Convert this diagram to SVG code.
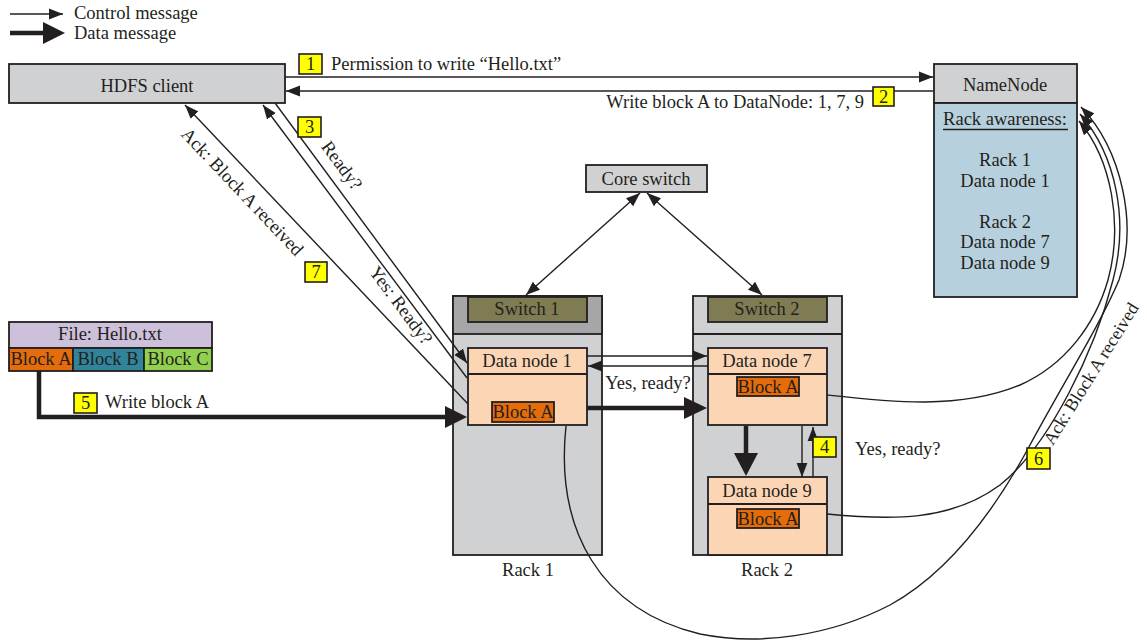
<svg xmlns="http://www.w3.org/2000/svg" width="1147" height="640" viewBox="0 0 1147 640">
<style>
.t{font-family:"Liberation Serif","Times New Roman",serif;font-size:18.5px;fill:#231f20}
.m{text-anchor:middle}
.e{text-anchor:end}
.b{stroke:#231f20;stroke-width:1.8}
.c{stroke:#231f20;stroke-width:1.4;fill:none}
.d{stroke:#231f20;stroke-width:4.5;fill:none}
.h{fill:#231f20}
.y{fill:#ffff00;stroke:#231f20;stroke-width:1.6}
.g{fill:#d0d1d3}
.p{fill:#fcd5b4}
.o{fill:#e46c0a}
.ol{fill:#7f7b52}
</style>
<defs>
<marker id="a" markerUnits="userSpaceOnUse" markerWidth="14" markerHeight="12" viewBox="0 0 13 10" refX="13" refY="5" orient="auto-start-reverse">
<path d="M0,0 L13,5 L0,10 z" fill="#231f20"/>
</marker>
</defs>

<g id="legend">
<line class="c" x1="10" y1="14" x2="63" y2="14" marker-end="url(#a)"/>
<text class="t" x="74" y="19">Control message</text>
<line class="d" x1="10" y1="33" x2="45" y2="33"/>
<polygon class="h" points="43,22 65,33 43,44"/>
<text class="t" x="74" y="39">Data message</text>
</g>

<g id="hdfs-client">
<rect class="b g" x="9" y="64" width="276" height="39"/>
<text class="t m" x="147" y="92">HDFS client</text>
</g>

<g id="namenode">
<rect class="b g" x="934" y="64" width="143" height="39"/>
<rect class="b" fill="#b7d0dd" x="934" y="103" width="143" height="194"/>
<text class="t m" x="1005" y="91">NameNode</text>
<text class="t m" x="1005" y="125">Rack awareness:</text>
<line x1="943" y1="129.5" x2="1068" y2="129.5" stroke="#231f20" stroke-width="1.5"/>
<text class="t m" x="1005" y="166">Rack 1</text>
<text class="t m" x="1005" y="187">Data node 1</text>
<text class="t m" x="1005" y="228">Rack 2</text>
<text class="t m" x="1005" y="248">Data node 7</text>
<text class="t m" x="1005" y="269">Data node 9</text>
</g>

<g id="core-switch">
<rect class="b g" x="586" y="165" width="121" height="27"/>
<text class="t m" x="646" y="185">Core switch</text>
</g>

<g id="file">
<rect class="b" fill="#ccc0da" x="9" y="322" width="203" height="26"/>
<text class="t m" x="110" y="340">File: Hello.txt</text>
<rect class="b o" x="9" y="348" width="64" height="23"/>
<rect class="b" fill="#31849b" x="73" y="348" width="71" height="23"/>
<rect class="b" fill="#92d050" x="144" y="348" width="68" height="23"/>
<text class="t m" x="41" y="365">Block A</text>
<text class="t m" x="108" y="365">Block B</text>
<text class="t m" x="178" y="365">Block C</text>
</g>

<g id="rack1">
<rect class="b g" x="453" y="296" width="149" height="259"/>
<rect class="b" fill="#a6a6a8" x="453" y="296" width="149" height="38"/>
<text class="t m" x="528" y="576">Rack 1</text>
</g>
<g id="switch1">
<rect class="b ol" x="468" y="297" width="119" height="25"/>
<text class="t m" x="527" y="315">Switch 1</text>
</g>
<g id="datanode1">
<rect class="b p" x="468" y="348" width="119" height="77"/>
<line class="b" x1="468" y1="374" x2="587" y2="374"/>
<text class="t m" x="527" y="367">Data node 1</text>
<rect class="b o" x="492" y="402" width="62" height="20"/>
<text class="t m" x="523" y="418">Block A</text>
</g>

<g id="rack2">
<rect class="b g" x="693" y="296" width="149" height="259"/>
<line class="b" x1="693" y1="334" x2="842" y2="334"/>
<text class="t m" x="767" y="576">Rack 2</text>
</g>
<g id="switch2">
<rect class="b ol" x="708" y="297" width="119" height="25"/>
<text class="t m" x="767" y="315">Switch 2</text>
</g>
<g id="datanode7">
<rect class="b p" x="708" y="348" width="119" height="77"/>
<line class="b" x1="708" y1="374" x2="827" y2="374"/>
<text class="t m" x="767" y="367">Data node 7</text>
<rect class="b o" x="737" y="377" width="62" height="19"/>
<text class="t m" x="768" y="393">Block A</text>
</g>
<g id="datanode9">
<rect class="b p" x="708" y="477" width="119" height="78"/>
<line class="b" x1="708" y1="504" x2="827" y2="504"/>
<text class="t m" x="767" y="497">Data node 9</text>
<rect class="b o" x="737" y="509" width="62" height="19"/>
<text class="t m" x="768" y="525">Block A</text>
</g>

<g id="connectors">
<line class="c" x1="285" y1="77" x2="933" y2="77" marker-end="url(#a)"/>
<line class="c" x1="933" y1="91" x2="286" y2="91" marker-end="url(#a)"/>
<line class="c" x1="640" y1="193" x2="526" y2="295" marker-start="url(#a)" marker-end="url(#a)"/>
<line class="c" x1="647" y1="193" x2="762" y2="295" marker-start="url(#a)" marker-end="url(#a)"/>
<line class="c" x1="275" y1="103" x2="467" y2="363" marker-end="url(#a)"/>
<line class="c" x1="467" y1="378" x2="263" y2="105" marker-end="url(#a)"/>
<line class="c" x1="468" y1="404" x2="185" y2="105" marker-end="url(#a)"/>
<line class="c" x1="587" y1="356" x2="707" y2="356" marker-end="url(#a)"/>
<line class="c" x1="708" y1="366" x2="588" y2="366" marker-end="url(#a)"/>
<line class="c" x1="802" y1="426" x2="802" y2="477" marker-end="url(#a)"/>
<line class="c" x1="813" y1="477" x2="813" y2="427" marker-end="url(#a)"/>
<polyline class="d" points="39,371 39,417 447,417"/>
<polygon class="h" points="445,406 467,417 445,428"/>
<line class="d" x1="587" y1="408" x2="686" y2="408"/>
<polygon class="h" points="684,397 707,408 684,419"/>
<line class="d" x1="746" y1="426" x2="746" y2="455"/>
<polygon class="h" points="734,453 758,453 746,476"/>
<path class="c" d="M827,395 C890,402 960,410 1020,385 C1065,365 1095,325 1108,280 C1123,225 1112,160 1079,121" marker-end="url(#a)"/>
<path class="c" d="M827,514 C890,520 950,522 1000,485 C1050,445 1095,350 1113,280 C1129,220 1116,155 1080,114" marker-end="url(#a)"/>
<path class="c" d="M566,426 C555,530 600,610 700,634 C760,646 830,636 890,605 C950,572 995,510 1030,445 C1065,380 1100,325 1119,280 C1138,225 1122,150 1081,107" marker-end="url(#a)"/>
</g>

<g id="labels">
<rect class="y" x="299" y="54" width="23" height="20"/>
<text class="t m" x="310.5" y="70">1</text>
<text class="t" x="331" y="70">Permission to write “Hello.txt”</text>
<rect class="y" x="873" y="87" width="21" height="19"/>
<text class="t m" x="883.5" y="103">2</text>
<text class="t e" x="864" y="108">Write block A to DataNode: 1, 7, 9</text>
<rect class="y" x="298" y="117" width="23" height="20"/>
<text class="t m" x="309.5" y="133">3</text>
<text class="t m" transform="translate(337,169) rotate(53.6)">Ready?</text>
<text class="t m" transform="translate(396,309) rotate(53.3)">Yes: Ready?</text>
<text class="t m" transform="translate(238,196) rotate(46.6)">Ack: Block A received</text>
<rect class="y" x="305" y="262" width="22" height="20"/>
<text class="t m" x="316" y="278">7</text>
<rect class="y" x="74" y="393" width="23" height="20"/>
<text class="t m" x="85.5" y="409">5</text>
<text class="t" x="105" y="408">Write block A</text>
<text class="t m" x="648" y="389">Yes, ready?</text>
<rect class="y" x="813" y="437" width="23" height="20"/>
<text class="t m" x="824.5" y="453">4</text>
<text class="t" x="855" y="455">Yes, ready?</text>
<rect class="y" x="1027" y="448" width="23" height="21"/>
<text class="t m" x="1038.5" y="465">6</text>
<text class="t m" style="font-size:18px" transform="translate(1096,377) rotate(-58)">Ack: Block A received</text>
</g>
</svg>
